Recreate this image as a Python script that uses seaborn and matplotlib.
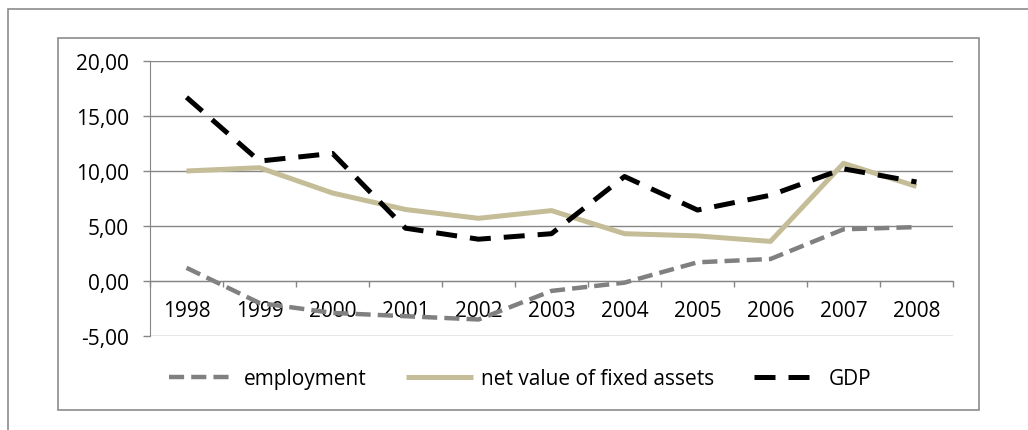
import matplotlib
matplotlib.use("Agg")
import matplotlib.pyplot as plt
import matplotlib.patches as patches
import seaborn as sns
import pandas as pd

# data
years = ["1998", "1999", "2000", "2001", "2002", "2003", "2004", "2005", "2006", "2007", "2008"]
employment = [1.2, -2.0, -2.9, -3.2, -3.5, -0.9, -0.15, 1.7, 2.0, 4.7, 4.9]
fixed_assets = [10.0, 10.3, 8.0, 6.5, 5.7, 6.4, 4.3, 4.1, 3.6, 10.7, 8.6]
gdp = [16.7, 10.9, 11.6, 4.8, 3.8, 4.3, 9.5, 6.45, 7.8, 10.2, 9.0]
y_ticks = [-5, 0, 5, 10, 15, 20]
y_labels = ["-5,00", "0,00", "5,00", "10,00", "15,00", "20,00"]

df = pd.DataFrame({"year": years, "employment": employment,
                   "net value of fixed assets": fixed_assets, "GDP": gdp})

sns.set_style("white")
plt.rcParams['font.family'] = ['Open Sans', 'DejaVu Sans']
plt.rcParams['font.size'] = 15
plt.rcParams['text.color'] = 'black'
plt.rcParams['xtick.color'] = 'black'
plt.rcParams['ytick.color'] = 'black'

fig = plt.figure(figsize=(10.28, 4.31), dpi=100)
grid_col = '#868686'

# outer and inner frames like the Excel chart
fig.patches.append(patches.Rectangle((8/1028, -0.2), 1.2, 1 - 10/431 + 0.2, transform=fig.transFigure,
                                     fill=False, edgecolor='#8c8c8c', lw=1.2, clip_on=False))
fig.patches.append(patches.Rectangle((58/1028, 1 - 411/431), (979-58)/1028, (411-39)/431,
                                     transform=fig.transFigure, fill=False, edgecolor='#8c8c8c', lw=1.2))

ax = fig.add_axes([150/1028, (431-337)/431, 803/1028, 275/431])

sns.lineplot(data=df, x="year", y="employment", ax=ax, color='#808080', lw=3.2, label="employment")
sns.lineplot(data=df, x="year", y="net value of fixed assets", ax=ax, color='#C4BD97', lw=3.6,
             label="net value of fixed assets")
sns.lineplot(data=df, x="year", y="GDP", ax=ax, color='black', lw=3.6, label="GDP")
ax.lines[0].set_dashes((3.4, 1.6))
ax.lines[2].set_dashes((4.2, 2.6))
for ln in ax.lines:
    ln.set_dash_capstyle('butt')
    ln.set_solid_capstyle('butt')

ax.set_xlim(-0.5, len(years) - 0.5)
ax.set_ylim(-5, 20)
ax.set_yticks(y_ticks)
ax.set_yticklabels(y_labels)
ax.set_xlabel("")
ax.set_ylabel("")

for s in ['top', 'right']:
    ax.spines[s].set_visible(False)
ax.spines['bottom'].set_position(('data', 0))
ax.spines['bottom'].set_color(grid_col)
ax.spines['left'].set_color(grid_col)

ax.yaxis.grid(True, color=grid_col, lw=1)
ax.set_axisbelow(True)

ax.tick_params(axis='y', length=5, color=grid_col, labelcolor='black', width=1, pad=10, left=True)
ax.tick_params(axis='x', which='major', length=0, pad=14, labelcolor='black', bottom=True)
ax.set_xticks([i - 0.5 for i in range(len(years) + 1)], minor=True)
ax.tick_params(axis='x', which='minor', length=4, color=grid_col, width=1, direction='out', bottom=True)

handles, labels = ax.get_legend_handles_labels()
ax.get_legend().remove()
leg = fig.legend(handles, labels, loc='center', bbox_to_anchor=(0.506, 1 - 380/431), ncol=3, frameon=False,
                 handlelength=3.2, handletextpad=0.4, columnspacing=1.9, fontsize=15)
for t in leg.get_texts():
    t.set_color('black')

fig.savefig("out.png", dpi=100)
